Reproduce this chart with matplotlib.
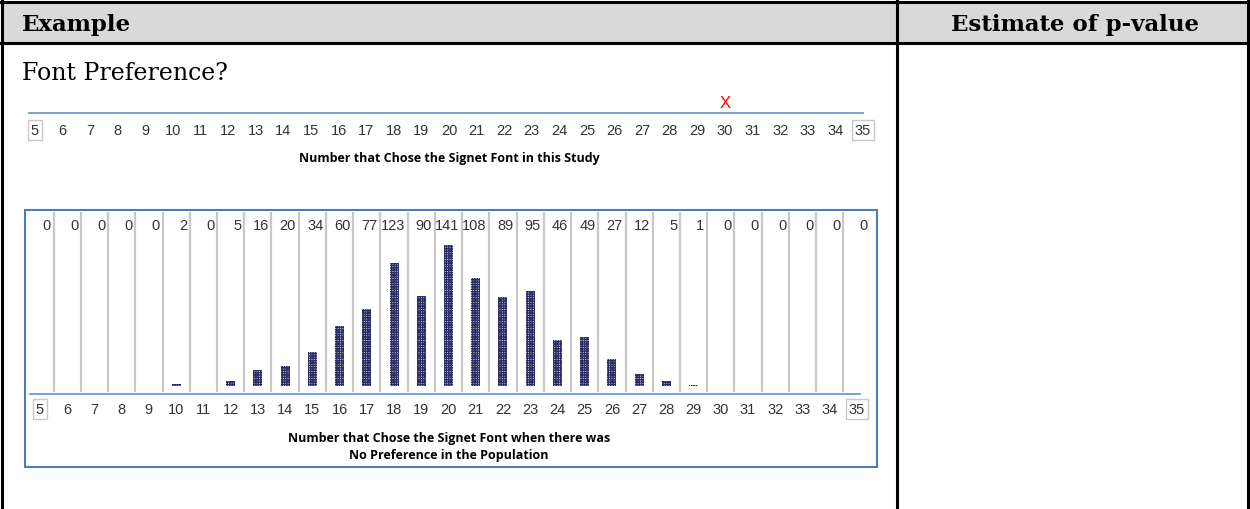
import numpy as np
import matplotlib
matplotlib.use('Agg')
from matplotlib import pyplot as plt
from matplotlib.patches import Rectangle

# 数据
values = list(range(5, 36))
counts = [0, 0, 0, 0, 0, 2, 0, 5, 16, 20, 34, 60, 77, 123, 90, 141, 108,
          89, 95, 46, 49, 27, 12, 5, 1, 0, 0, 0, 0, 0, 0]
observed = 30

header_left = 'Example'
header_right = 'Estimate of p-value'
question = 'Font Preference?'
top_caption = 'Number that Chose the Signet Font in this Study'
bottom_caption = 'Number that Chose the Signet Font when there was\nNo Preference in the Population'

W, H = 1250, 510
plt.rcParams['hatch.linewidth'] = 1.0
fig = plt.figure(figsize=(W / 100, H / 100), dpi=100)

# 整个画布用像素坐标画表格
ax = fig.add_axes([0, 0, 1, 1])
ax.set_xlim(0, W)
ax.set_ylim(H, 0)
ax.axis('off')

ax.add_patch(Rectangle((1, 2), 1247, 41, facecolor='#d9d9d9', edgecolor='none'))
ax.plot([1, 1249], [2.5, 2.5], color='black', lw=2.2)
ax.plot([1, 1249], [43.5, 43.5], color='black', lw=2.2)
ax.plot([1.5, 1.5], [2, H], color='black', lw=2.2)
ax.plot([1248, 1248], [2, H], color='black', lw=2.2)
ax.plot([897, 897], [2, H], color='black', lw=2.2)

serif = ['DejaVu Serif']
ax.text(22, 25, header_left, fontsize=16.5, fontweight='bold', family=serif,
        va='center', ha='left')
ax.text(1075, 25, header_right, fontsize=16.5, fontweight='bold', family=serif,
        va='center', ha='center')
ax.text(22, 73, question, fontsize=17, family=serif, va='center', ha='left')

# 下方框
ax.add_patch(Rectangle((25, 211), 852, 257, facecolor='none',
                       edgecolor='#4a7ebb', lw=1.5))

cap_font = dict(fontsize=9, fontweight='bold', family=['Open Sans', 'DejaVu Sans'],
                ha='center', va='center')
ax.text(449, 159, top_caption, **cap_font)
ax.text(449, 447, bottom_caption, linespacing=1.4, **cap_font)

num_font = dict(fontsize=10.5, family=['Liberation Sans', 'DejaVu Sans'],
                color='#333333', ha='center', va='center')
box = dict(boxstyle='square,pad=0.2', facecolor='white', edgecolor='#c8c8c8', lw=1)


def px_axes(x0, x1, y_top, y_bottom):
    return fig.add_axes([x0 / W, 1 - y_bottom / H, (x1 - x0) / W, (y_bottom - y_top) / H])


# 上方数轴
step_top = (863 - 35) / 30
ax1 = px_axes(35 - 0.5 * step_top, 863 + 0.5 * step_top, 90, 114)
ax1.set_xlim(4.5, 35.5)
ax1.set_ylim(0, 24)
ax1.axis('off')
ax1.plot([4.78, 35], [0, 0], color='#6f9bd6', lw=1.3, clip_on=False)
ax1.text(observed, 10, 'X', color='red', fontsize=12,
         family=['Liberation Sans', 'DejaVu Sans'], ha='center', va='center')
for v in values:
    ax1.text(v, -17, str(v), bbox=box if v in (values[0], values[-1]) else None,
             clip_on=False, **num_font)

# 下方点图
step_bot = (857 - 40) / 30
ax2 = px_axes(40 - 0.5 * step_bot, 857 + 0.5 * step_bot, 213, 395)
ax2.set_xlim(4.5, 35.5)
ax2.set_ylim(-8, 174)
ax2.axis('off')
ax2.plot([4.65, 35.1], [-8, -8], color='#6f9bd6', lw=1.3, clip_on=False)
for v in values[:-1]:
    ax2.plot([v + 0.5, v + 0.5], [-5, 173], color='#c8c8c8', lw=1.6)
ax2.bar(values, counts, width=0.33, bottom=0, facecolor='#e4e4ee',
        edgecolor='#2e2e66', hatch='+' * 7, linewidth=0)
for v, c in zip(values, counts):
    ax2.text(v + 0.4, 161, str(c), fontsize=10.5,
             family=['Liberation Sans', 'DejaVu Sans'], color='#333333',
             ha='right', va='center')
    ax2.text(v, -23, str(v), bbox=box if v in (values[0], values[-1]) else None,
             clip_on=False, **num_font)

plt.savefig('out.png', dpi=100)
